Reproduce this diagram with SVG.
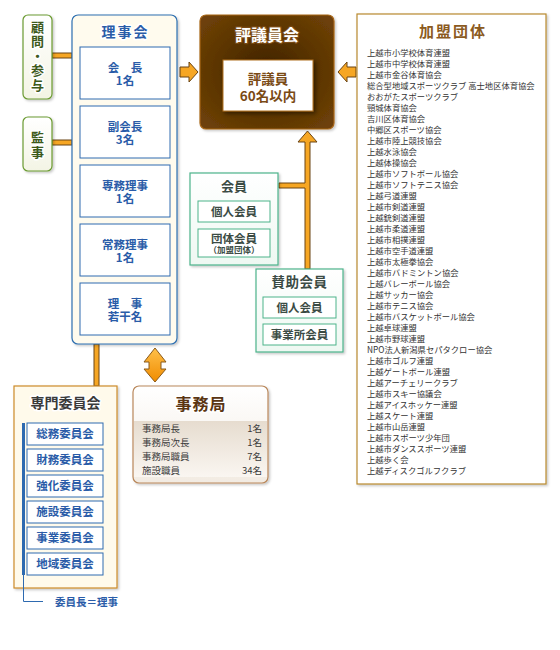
<svg xmlns="http://www.w3.org/2000/svg" width="560" height="650" viewBox="0 0 560 650">
<defs>
  <filter id="sh" x="-10%" y="-10%" width="130%" height="130%">
    <feDropShadow dx="1.5" dy="1.5" stdDeviation="1.2" flood-color="#000" flood-opacity="0.22"/>
  </filter>
  <filter id="sh2" x="-20%" y="-20%" width="150%" height="150%">
    <feDropShadow dx="2" dy="2" stdDeviation="2" flood-color="#000" flood-opacity="0.5"/>
  </filter>
  <linearGradient id="gGreen" x1="0" y1="0" x2="0" y2="1">
    <stop offset="0" stop-color="#ffffff"/>
    <stop offset="1" stop-color="#f3f4e4"/>
  </linearGradient>
  <linearGradient id="gMint" x1="0" y1="0" x2="0" y2="1">
    <stop offset="0" stop-color="#ffffff"/>
    <stop offset="1" stop-color="#eef8f2"/>
  </linearGradient>
  <radialGradient id="gBrown" cx="0.5" cy="0.5" r="0.65">
    <stop offset="0" stop-color="#3f2200"/>
    <stop offset="0.55" stop-color="#5a3402"/>
    <stop offset="1" stop-color="#6e4108"/>
  </radialGradient>
  <linearGradient id="gOffice" x1="0" y1="0" x2="0" y2="1">
    <stop offset="0" stop-color="#ffffff"/>
    <stop offset="1" stop-color="#f2ebe2"/>
  </linearGradient>
  <linearGradient id="gBand" x1="0" y1="0" x2="0" y2="1">
    <stop offset="0" stop-color="#e6dccf"/>
    <stop offset="1" stop-color="#faf6f1"/>
  </linearGradient>
  <linearGradient id="gArrow" x1="0" y1="0" x2="0" y2="1">
    <stop offset="0" stop-color="#ffc04a"/>
    <stop offset="1" stop-color="#f08c00"/>
  </linearGradient>
  <style>
    text { font-family: "Noto Sans CJK JP", "Noto Sans", sans-serif; }
    .ttl { font-weight: bold; text-anchor: middle; stroke: #ffffff; stroke-width: 3; paint-order: stroke; stroke-linejoin: round; }
    .vert { font-weight: bold; writing-mode: vertical-rl; stroke: #ffffff; stroke-width: 3; paint-order: stroke; stroke-linejoin: round; }
    .blue { fill: #2a5ca8; }
    .sub { font-weight: bold; text-anchor: middle; font-size: 11.5px; }
    .green { fill: #3d5a1c; }
    .mint { fill: #3b4b44; }
    .conn { fill: #f6a623; stroke: #6b4514; stroke-width: 1; }
    .list { font-size: 8.3px; fill: #333333; }
    .row { font-size: 9.5px; fill: #3a3a3a; }
  </style>
</defs>

<!-- connectors -->
<g id="connectors">
  <rect class="conn" x="52" y="53" width="20" height="5"/>
  <rect class="conn" x="52" y="140" width="20" height="5"/>
  <rect class="conn" x="94" y="344" width="5" height="42"/>
  <polygon class="conn" points="180,67 189,67 189,62 198,72 189,82 189,77 180,77"/>
  <polygon class="conn" points="356,67 347,67 347,62 338,72 347,82 347,77 356,77"/>
  <polygon class="conn" points="310,269 310,142 317,142 307.5,131 298,142 305,142 305,183 279,183 279,188 305,188 305,269"/>
  <polygon fill="url(#gArrow)" stroke="#8a5a1a" stroke-width="1" points="155,348 166,362 161,362 161,369 166,369 155,382 144,369 149,369 149,362 144,362"/>
</g>

<!-- 顧問・参与 -->
<g id="komon">
  <rect x="23" y="15" width="29" height="84" rx="5" fill="url(#gGreen)" stroke="#6a9a30" stroke-width="1.2" filter="url(#sh)"/>
  <text class="vert green" font-size="13" letter-spacing="1.5" x="37.5" y="20.5">顧問・参与</text>
</g>

<!-- 監事 -->
<g id="kanji">
  <rect x="23" y="117" width="29" height="54" rx="5" fill="url(#gGreen)" stroke="#6a9a30" stroke-width="1.2" filter="url(#sh)"/>
  <text class="vert green" font-size="13" letter-spacing="2" x="37.5" y="130.5">監事</text>
</g>

<!-- 理事会 -->
<g id="rijikai">
  <rect x="72" y="15" width="105" height="329" rx="6" fill="#fffbee" stroke="#2e6fb0" stroke-width="1.2" filter="url(#sh)"/>
  <text class="ttl blue" font-size="14" letter-spacing="2" x="125.5" y="37">理事会</text>
  <g fill="#ffffff" stroke="#2e6ab0" stroke-width="1">
    <rect x="80" y="47" width="90" height="52"/>
    <rect x="80" y="106" width="90" height="52"/>
    <rect x="80" y="165" width="90" height="52"/>
    <rect x="80" y="224" width="90" height="52"/>
    <rect x="80" y="283" width="90" height="52"/>
  </g>
  <g class="sub blue">
    <text x="125" y="72">会　長<tspan x="125" dy="13">1名</tspan></text>
    <text x="125" y="131">副会長<tspan x="125" dy="13">3名</tspan></text>
    <text x="125" y="190">専務理事<tspan x="125" dy="13">1名</tspan></text>
    <text x="125" y="249">常務理事<tspan x="125" dy="13">1名</tspan></text>
    <text x="125" y="308">理　事<tspan x="125" dy="13">若干名</tspan></text>
  </g>
</g>

<!-- 評議員会 -->
<g id="hyogiinkai">
  <rect x="200" y="15" width="134" height="114" rx="6" fill="url(#gBrown)" stroke="#a8661a" stroke-width="1.2" filter="url(#sh)"/>
  <text font-size="16" font-weight="bold" text-anchor="middle" x="267" y="41" fill="#ffffff" stroke="#7a4a14" stroke-width="2.5" paint-order="stroke" stroke-linejoin="round">評議員会</text>
  <rect x="223" y="60" width="90" height="51" fill="#ffffff" stroke="#b07020" stroke-width="1" filter="url(#sh2)"/>
  <text font-size="13.5" font-weight="bold" text-anchor="middle" fill="#7a4a15" x="268" y="84">評議員<tspan x="268" dy="17">60名以内</tspan></text>
</g>

<!-- 会員 -->
<g id="kaiin">
  <rect x="190" y="173" width="88" height="92" fill="url(#gMint)" stroke="#4cb38a" stroke-width="1.2" filter="url(#sh)"/>
  <text class="ttl mint" font-size="13" x="234" y="191">会員</text>
  <rect x="198" y="201" width="72" height="21" fill="#ffffff" stroke="#4cb38a" stroke-width="1"/>
  <rect x="198" y="229" width="72" height="28" fill="#ffffff" stroke="#4cb38a" stroke-width="1"/>
  <text class="sub mint" x="234" y="216">個人会員</text>
  <text class="sub mint" x="234" y="243">団体会員<tspan x="234" dy="10" font-size="8.5">（加盟団体）</tspan></text>
</g>

<!-- 賛助会員 -->
<g id="sanjo">
  <rect x="256" y="269" width="87" height="83" fill="url(#gMint)" stroke="#4cb38a" stroke-width="1.2" filter="url(#sh)"/>
  <text class="ttl mint" font-size="13.5" letter-spacing="0.5" x="299.5" y="287">賛助会員</text>
  <rect x="263" y="297" width="73" height="21" fill="#ffffff" stroke="#4cb38a" stroke-width="1"/>
  <rect x="263" y="324" width="73" height="21" fill="#ffffff" stroke="#4cb38a" stroke-width="1"/>
  <text class="sub mint" x="299.5" y="312">個人会員</text>
  <text class="sub mint" x="299.5" y="339">事業所会員</text>
</g>

<!-- 専門委員会 -->
<g id="senmon">
  <rect x="14" y="386" width="103" height="202" fill="#fffaeb" stroke="#cc8a2a" stroke-width="1.2" filter="url(#sh)"/>
  <text class="ttl" font-size="14" fill="#3a3a3a" x="65.5" y="408">専門委員会</text>
  <rect x="22" y="423" width="3" height="152" fill="#2e6ab0"/>
  <g fill="#ffffff" stroke="#2e6ab0" stroke-width="1">
    <rect x="27" y="423" width="76" height="22"/>
    <rect x="27" y="449" width="76" height="22"/>
    <rect x="27" y="475" width="76" height="22"/>
    <rect x="27" y="501" width="76" height="22"/>
    <rect x="27" y="527" width="76" height="22"/>
    <rect x="27" y="553" width="76" height="22"/>
  </g>
  <g class="sub blue">
    <text x="65" y="438">総務委員会</text>
    <text x="65" y="464">財務委員会</text>
    <text x="65" y="490">強化委員会</text>
    <text x="65" y="516">施設委員会</text>
    <text x="65" y="542">事業委員会</text>
    <text x="65" y="568">地域委員会</text>
  </g>
  <polyline points="23.5,575 23.5,601.5 43,601.5" fill="none" stroke="#2e6ab0" stroke-width="1"/>
  <text font-size="10.5" font-weight="bold" class="blue" x="55" y="606">委員長＝理事</text>
</g>

<!-- 事務局 -->
<g id="jimukyoku">
  <rect x="133" y="386" width="135" height="97" rx="6" fill="url(#gOffice)" stroke="#b9875a" stroke-width="1.2" filter="url(#sh)"/>
  <rect x="134" y="421" width="133" height="56" fill="url(#gBand)"/>
  <text class="ttl" font-size="16" letter-spacing="1" fill="#5a3512" x="201" y="410">事務局</text>
  <g class="row">
    <text x="142" y="432">事務局長</text>
    <text x="142" y="446">事務局次長</text>
    <text x="142" y="460">事務局職員</text>
    <text x="142" y="474">施設職員</text>
  </g>
  <g class="row" text-anchor="end">
    <text x="262" y="432">1名</text>
    <text x="262" y="446">1名</text>
    <text x="262" y="460">7名</text>
    <text x="262" y="474">34名</text>
  </g>
</g>

<!-- 加盟団体 -->
<g id="kamei">
  <rect x="357" y="14" width="189" height="470" fill="#ffffff" stroke="#b8892f" stroke-width="1.2" filter="url(#sh)"/>
  <text class="ttl" font-size="15" letter-spacing="2" fill="#8b5a1e" x="453" y="37">加盟団体</text>
  <g class="list">
    <text x="367" y="55.5">上越市小学校体育連盟</text>
    <text x="367" y="66.5">上越市中学校体育連盟</text>
    <text x="367" y="77.5">上越市金谷体育協会</text>
    <text x="367" y="88.5">総合型地域スポーツクラブ 高士地区体育協会</text>
    <text x="367" y="99.5">おおがたスポーツクラブ</text>
    <text x="367" y="110.5">頸城体育協会</text>
    <text x="367" y="121.5">吉川区体育協会</text>
    <text x="367" y="132.5">中郷区スポーツ協会</text>
    <text x="367" y="143.5">上越市陸上競技協会</text>
    <text x="367" y="154.5">上越水泳協会</text>
    <text x="367" y="165.5">上越体操協会</text>
    <text x="367" y="176.5">上越市ソフトボール協会</text>
    <text x="367" y="187.5">上越市ソフトテニス協会</text>
    <text x="367" y="198.5">上越弓道連盟</text>
    <text x="367" y="209.5">上越市剣道連盟</text>
    <text x="367" y="220.5">上越銃剣道連盟</text>
    <text x="367" y="231.5">上越市柔道連盟</text>
    <text x="367" y="242.5">上越市相撲連盟</text>
    <text x="367" y="253.5">上越市空手道連盟</text>
    <text x="367" y="264.5">上越市太極拳協会</text>
    <text x="367" y="275.5">上越市バドミントン協会</text>
    <text x="367" y="286.5">上越バレーボール協会</text>
    <text x="367" y="297.5">上越サッカー協会</text>
    <text x="367" y="308.5">上越市テニス協会</text>
    <text x="367" y="319.5">上越市バスケットボール協会</text>
    <text x="367" y="330.5">上越卓球連盟</text>
    <text x="367" y="341.5">上越市野球連盟</text>
    <text x="367" y="352.5">NPO法人新潟県セパタクロー協会</text>
    <text x="367" y="363.5">上越市ゴルフ連盟</text>
    <text x="367" y="374.5">上越ゲートボール連盟</text>
    <text x="367" y="385.5">上越アーチェリークラブ</text>
    <text x="367" y="396.5">上越市スキー協議会</text>
    <text x="367" y="407.5">上越アイスホッケー連盟</text>
    <text x="367" y="418.5">上越スケート連盟</text>
    <text x="367" y="429.5">上越市山岳連盟</text>
    <text x="367" y="440.5">上越市スポーツ少年団</text>
    <text x="367" y="451.5">上越市ダンススポーツ連盟</text>
    <text x="367" y="462.5">上越歩く会</text>
    <text x="367" y="473.5">上越ディスクゴルフクラブ</text>
  </g>
</g>
</svg>
